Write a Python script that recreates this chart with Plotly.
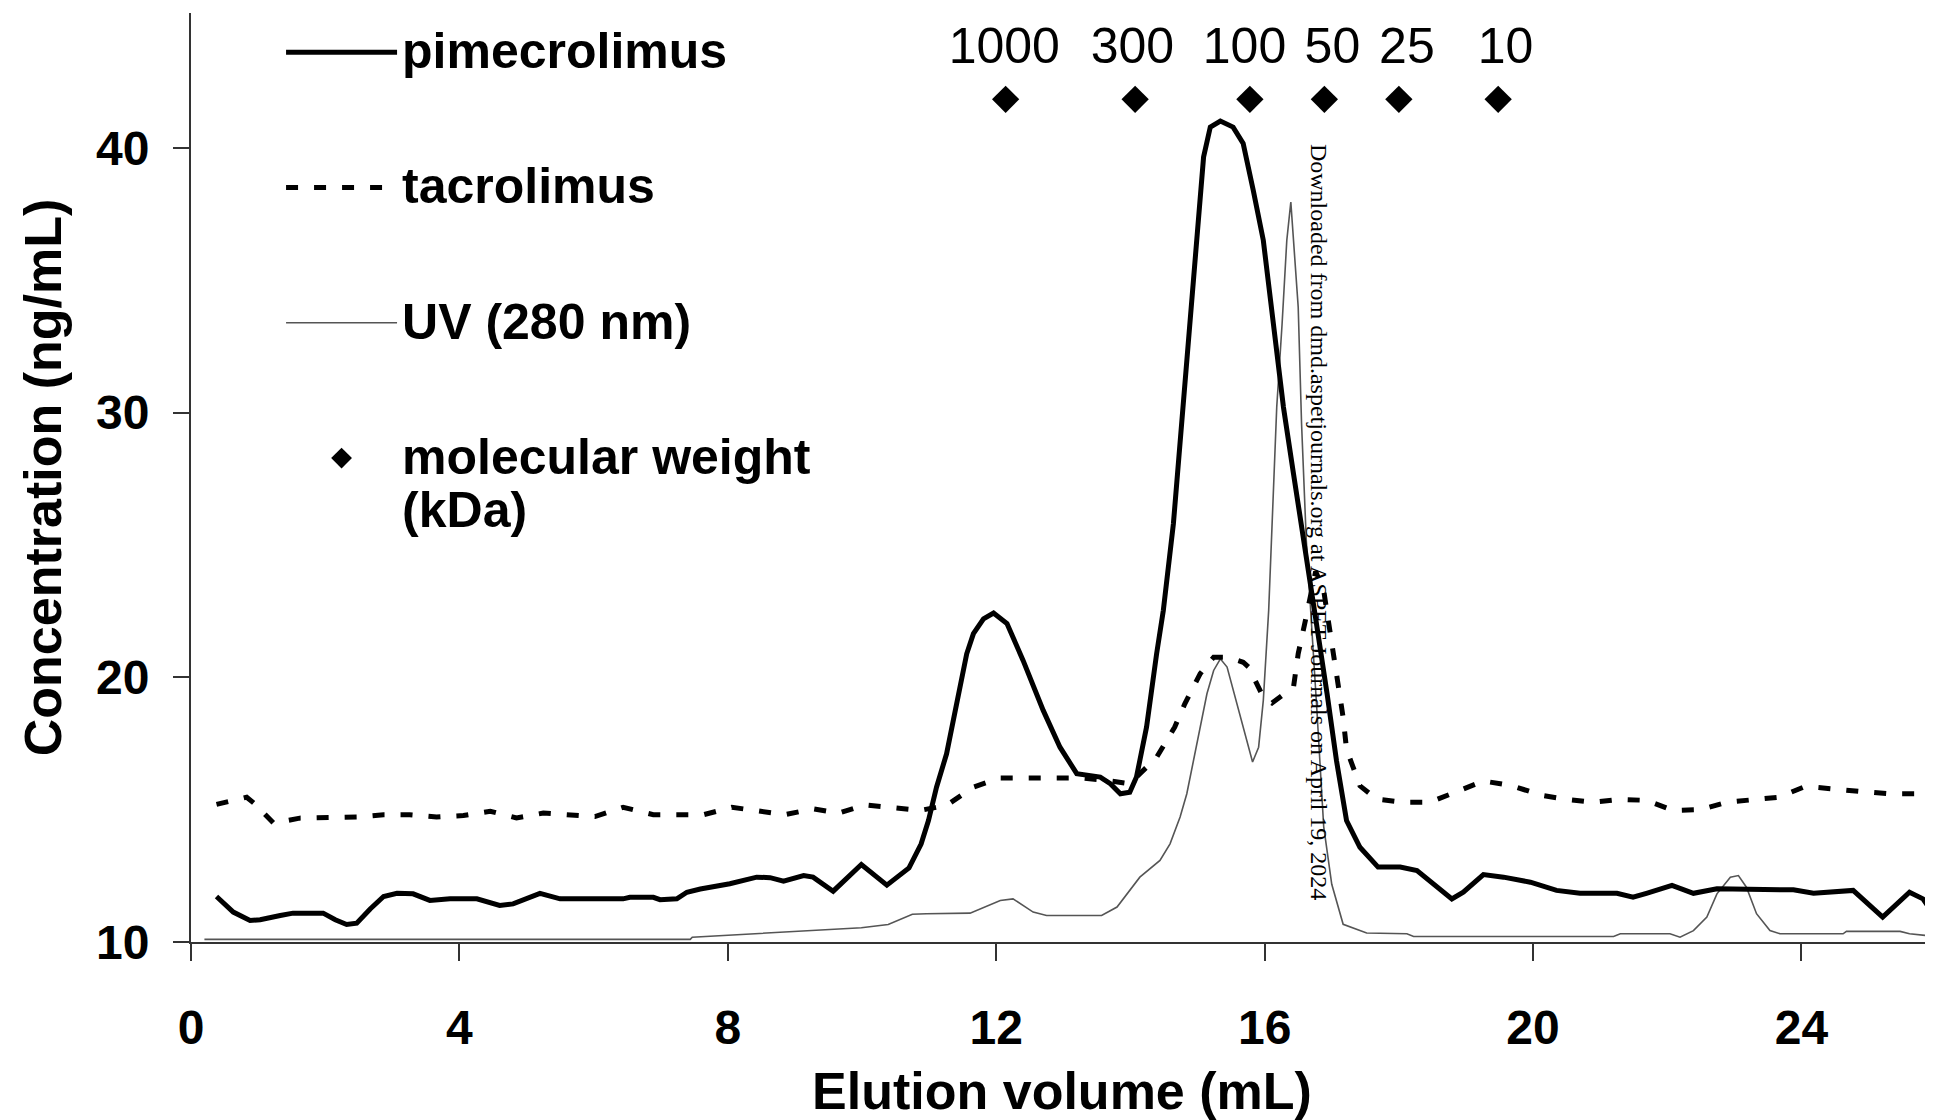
import plotly.graph_objects as go

# ---- data ----
pime_x = [0.38, 0.63, 0.88, 1.03, 1.33, 1.52, 1.97, 2.15, 2.32, 2.47, 2.67, 2.87, 3.07, 3.31, 3.56,
          3.86, 4.26, 4.60, 4.80, 5.20, 5.50, 6.44, 6.54, 6.89, 6.99, 7.24, 7.39, 7.59, 8.03, 8.43,
          8.63, 8.83, 9.13, 9.27, 9.57, 9.99, 10.37, 10.70, 10.88, 10.99, 11.11, 11.26, 11.41, 11.46,
          11.56, 11.66, 11.71, 11.81, 11.96, 12.16, 12.40, 12.70, 12.95, 13.20, 13.55, 13.70, 13.85,
          13.99, 14.09, 14.24, 14.39, 14.49, 14.64, 14.76, 14.89, 14.99, 15.09, 15.19, 15.34, 15.53,
          15.68, 15.83, 15.98, 16.13, 16.28, 16.43, 16.63, 16.78, 16.93, 17.07, 17.22, 17.42, 17.69,
          18.02, 18.27, 18.51, 18.79, 18.96, 19.26, 19.56, 19.96, 20.35, 20.70, 21.25, 21.49, 21.69,
          22.07, 22.39, 22.74, 23.88, 24.18, 24.77, 25.21, 25.61, 25.81, 25.96]
pime_y = [11.72, 11.13, 10.81, 10.84, 11.00, 11.09, 11.09, 10.84, 10.66, 10.71, 11.25, 11.72, 11.84,
          11.82, 11.57, 11.63, 11.63, 11.38, 11.44, 11.84, 11.63, 11.63, 11.69, 11.69, 11.60, 11.63,
          11.88, 12.00, 12.20, 12.45, 12.43, 12.30, 12.51, 12.45, 11.92, 12.93, 12.15, 12.80, 13.70,
          14.59, 15.85, 17.11, 19.00, 19.63, 20.89, 21.65, 21.84, 22.21, 22.43, 22.03, 20.64, 18.75,
          17.36, 16.36, 16.23, 15.98, 15.60, 15.66, 16.23, 18.12, 20.89, 22.53, 25.80, 29.58, 33.36,
          36.89, 39.66, 40.79, 41.02, 40.79, 40.17, 38.40, 36.51, 33.36, 30.21, 27.69, 24.54, 21.90,
          19.38, 16.86, 14.59, 13.58, 12.83, 12.83, 12.70, 12.20, 11.63, 11.88, 12.55, 12.45, 12.26,
          11.95, 11.84, 11.84, 11.69, 11.84, 12.14, 11.84, 12.01, 11.97, 11.84, 11.95, 10.94, 11.88,
          11.63, 11.07]

tacro_x = [0.38, 0.83, 0.95, 1.23, 1.62, 2.02, 2.47, 2.87, 3.26, 3.66, 4.06, 4.46, 4.85, 5.25, 5.65,
           6.02, 6.44, 6.89, 7.29, 7.64, 8.06, 8.48, 8.85, 9.27, 9.65, 10.04, 10.44, 10.86, 11.26,
           11.66, 12.06, 12.45, 12.85, 13.25, 13.65, 13.99, 14.39, 14.66, 14.81, 15.04, 15.24, 15.44,
           15.68, 15.76, 15.98, 16.11, 16.43, 16.50, 16.60, 16.76, 16.88, 17.02, 17.10, 17.17, 17.22,
           17.42, 17.67, 18.07, 18.46, 18.86, 19.26, 19.68, 20.13, 20.50, 20.90, 21.30, 21.69, 22.09,
           22.49, 22.89, 23.28, 23.66, 24.06, 24.48, 24.87, 25.30, 25.96]
tacro_y = [15.20, 15.47, 15.22, 14.49, 14.68, 14.68, 14.72, 14.81, 14.81, 14.72, 14.78, 14.94, 14.69,
           14.87, 14.81, 14.74, 15.09, 14.81, 14.81, 14.81, 15.09, 14.94, 14.81, 15.03, 14.87, 15.18,
           15.09, 14.97, 15.16, 15.85, 16.20, 16.20, 16.20, 16.20, 16.10, 15.98, 16.98, 18.12, 19.00,
           20.14, 20.76, 20.76, 20.57, 20.39, 19.25, 19.03, 19.63, 20.89, 22.06, 24.00, 23.28, 21.00,
           19.78, 18.48, 17.28, 15.90, 15.40, 15.28, 15.28, 15.66, 16.08, 15.91, 15.54, 15.39, 15.28,
           15.39, 15.35, 14.97, 15.00, 15.28, 15.39, 15.47, 15.88, 15.76, 15.69, 15.60, 15.60]

uv_x = [0.20, 7.44, 7.47, 8.43, 9.22, 9.99, 10.39, 10.75, 10.96, 11.61, 12.06, 12.25, 12.55, 12.75,
        13.57, 13.80, 14.14, 14.44, 14.59, 14.74, 14.84, 14.99, 15.14, 15.24, 15.34, 15.44, 15.59,
        15.73, 15.82, 15.91, 15.98, 16.06, 16.13, 16.18, 16.26, 16.33, 16.39, 16.43, 16.50, 16.55,
        16.62, 16.78, 16.88, 17.00, 17.17, 17.52, 17.72, 18.12, 18.22, 21.20, 21.30, 22.04, 22.19,
        22.39, 22.59, 22.74, 22.94, 23.06, 23.18, 23.33, 23.53, 23.68, 24.62, 24.67, 25.47, 25.61,
        25.96]
uv_y = [10.10, 10.10, 10.18, 10.31, 10.41, 10.54, 10.66, 11.05, 11.07, 11.09, 11.57, 11.63, 11.13,
        11.00, 11.00, 11.32, 12.45, 13.08, 13.71, 14.72, 15.60, 17.49, 19.38, 20.26, 20.70, 20.39,
        19.00, 17.62, 16.80, 17.36, 19.13, 22.53, 27.06, 30.21, 33.36, 36.51, 37.96, 36.51, 33.99,
        29.58, 25.20, 18.70, 14.36, 12.18, 10.67, 10.34, 10.33, 10.31, 10.21, 10.21, 10.31, 10.31,
        10.18, 10.43, 10.94, 11.82, 12.45, 12.51, 12.07, 11.07, 10.43, 10.31, 10.31, 10.40, 10.40,
        10.31, 10.22]

mw_x = [12.14, 14.07, 15.78, 16.89, 18.00, 19.48]
mw_y = [41.84, 41.84, 41.84, 41.84, 41.84, 41.84]
mw_kda = ["1000", "300", "100", "50", "25", "10"]
mw_label_x = [12.12, 14.03, 15.70, 17.01, 18.12, 19.59]
mw_label_y = [43.70, 43.70, 43.70, 43.70, 43.70, 43.70]

x_ticks = [0, 4, 8, 12, 16, 20, 24]
y_ticks = [10, 20, 30, 40]

SANS = "Liberation Sans, Arial, sans-serif"
SERIF = "Liberation Serif, Times New Roman, serif"
AXIS_COLOR = "#333333"


def big(s):
    return "<span style='font-size:50px'>" + s + "</span>"


fig = go.Figure()
fig.add_trace(go.Scatter(x=uv_x, y=uv_y, mode="lines", name=big("UV (280 nm)"),
                         line=dict(color="#555555", width=1.6),
                         legendgroup="uv", legendrank=3))
fig.add_trace(go.Scatter(x=tacro_x, y=tacro_y, mode="lines", name=big("tacrolimus"),
                         line=dict(color="black", width=5, dash="12px,16px"),
                         legendgroup="tac", legendrank=2))
fig.add_trace(go.Scatter(x=pime_x, y=pime_y, mode="lines", name=big("pimecrolimus"),
                         line=dict(color="black", width=5),
                         legendgroup="pime", legendrank=1))
fig.add_trace(go.Scatter(x=mw_x, y=mw_y, mode="markers",
                         name=big("molecular weight") + "<br>" + big("(kDa)"),
                         marker=dict(symbol="diamond", size=21, color="black"),
                         legendgroup="mw", legendrank=4))
fig.add_trace(go.Scatter(x=mw_label_x, y=mw_label_y, mode="text", text=mw_kda,
                         textfont=dict(family=SANS, size=50, color="black"),
                         showlegend=False, hoverinfo="skip"))

# the page body adds an 8px offset, so the figure is 8px smaller and margins shifted
fig.update_layout(
    width=1925, height=1112,
    margin=dict(l=183, r=0, t=5, b=178),
    paper_bgcolor="white", plot_bgcolor="white",
    font=dict(family=SANS, color="black"),
    xaxis=dict(range=[0, 25.96], tickvals=x_ticks, ticks="outside", ticklen=17, tickwidth=2,
               tickcolor=AXIS_COLOR, showline=True, linecolor=AXIS_COLOR, linewidth=2,
               showgrid=False, zeroline=False, automargin=False,
               tickfont=dict(family=SANS, size=48, weight="bold", color="black"),
               ticklabelstandoff=25,
               title=dict(text="Elution volume (mL)", standoff=31,
                          font=dict(family=SANS, size=52, weight="bold", color="black"))),
    yaxis=dict(range=[10, 45.1], tickvals=y_ticks, ticks="outside", ticklen=16, tickwidth=2,
               tickcolor=AXIS_COLOR, showline=True, linecolor=AXIS_COLOR, linewidth=2,
               showgrid=False, zeroline=False, automargin=False,
               tickfont=dict(family=SANS, size=48, weight="bold", color="black"),
               ticklabelstandoff=14,
               title=dict(text="Concentration (ng/mL)", standoff=18,
                          font=dict(family=SANS, size=52, weight="bold", color="black"))),
    showlegend=True,
    legend=dict(x=0.0517, y=0.9935, xanchor="left", yanchor="top",
                font=dict(family=SANS, size=41, weight="bold", color="black"),
                itemwidth=111, traceorder="grouped", tracegroupgap=79, valign="top",
                bgcolor="rgba(0,0,0,0)"),
    annotations=[dict(text="Downloaded from dmd.aspetjournals.org at ASPET Journals on April 19, 2024",
                      x=16.81, y=25.87, xref="x", yref="y", showarrow=False, textangle=90,
                      font=dict(family=SERIF, size=24, color="black"))],
)

fig.write_html("out.html")
